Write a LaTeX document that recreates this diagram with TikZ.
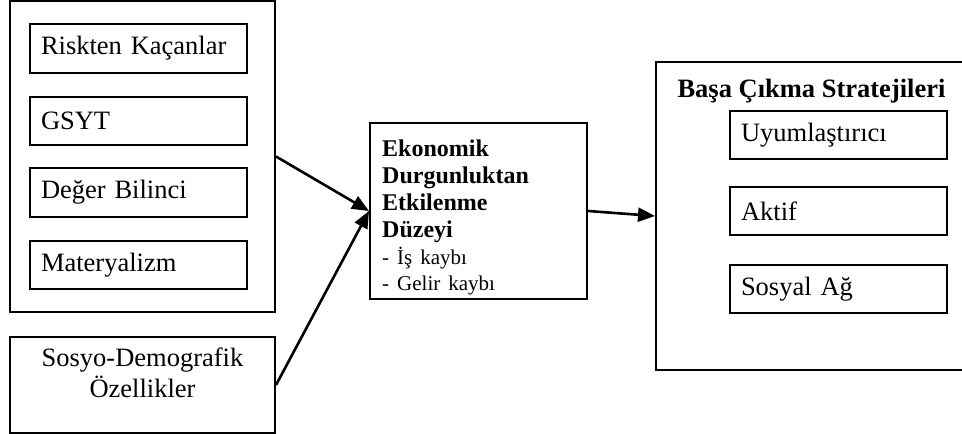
\documentclass[tikz,border=0pt]{standalone}
\usepackage{fontspec}
\setmainfont{Liberation Serif}
\usetikzlibrary{arrows.meta}

\tikzset{
  frame/.style={draw, line width=2pt, inner sep=0pt},
  item/.style={draw, line width=2pt, minimum width=217pt, minimum height=48.5pt,
    text width=195pt, inner xsep=11pt, inner ysep=0pt, align=left,
    font=\fontsize{26.5}{31}\selectfont},
  link/.style={line width=2.6pt, -{Triangle[length=17pt,width=14pt]}}
}

\begin{document}
\begin{tikzpicture}[x=1pt, y=-1pt]
\useasboundingbox (0,0) rectangle (962,434);
% consumer groups
\node[frame, minimum width=265pt, minimum height=311pt] (groups) at (142.5,156.5) {};
\node[item] (risk) at (138.5,48.5) {Riskten Kaçanlar};
\node[item] (gsyt) at (138.5,121) {GSYT};
\node[item] (value) at (138.5,192.5) {Değer Bilinci};
\node[item] (mater) at (138.5,265) {Materyalizm};
\node[frame, minimum width=265pt, minimum height=96pt, align=center, text depth=25pt,
  font=\fontsize{26.5}{31}\selectfont] (demo) at (142.5,385) {Sosyo-Demografik\\Özellikler};
% recession effect
\node[frame, minimum width=217pt, minimum height=176pt] (effect) at (478.5,211) {};
\node[anchor=north west, inner sep=0pt, align=left, text width=190pt,
  font=\fontsize{24}{26.8}\selectfont\bfseries] (effecttxt)
  at ([shift={(13,18)}]effect.north west)
  {Ekonomik\\Durgunluktan\\Etkilenme\\Düzeyi\\
   {\fontsize{21}{26.8}\selectfont\mdseries - İş kaybı}\\
   {\fontsize{21}{26.8}\selectfont\mdseries - Gelir kaybı}};
% coping strategies
\node[frame, minimum width=319pt, minimum height=308pt] (coping) at (815.5,216) {};
\node[anchor=base, font=\fontsize{26.5}{31}\selectfont\bfseries] (copingtitle)
  at (811.5,97) {Başa Çıkma Stratejileri};
\node[item] (adapt) at (838.5,135) {Uyumlaştırıcı};
\node[item] (active) at (838.5,211) {Aktif};
\node[item] (social) at (838.5,289) {Sosyal Ağ};
% links
\draw[link] (groups.east) -- (effect.west);
\draw[link] (demo.east) -- (effect.west);
\draw[link] (effect.east) -- (coping.west);
\end{tikzpicture}
\end{document}
